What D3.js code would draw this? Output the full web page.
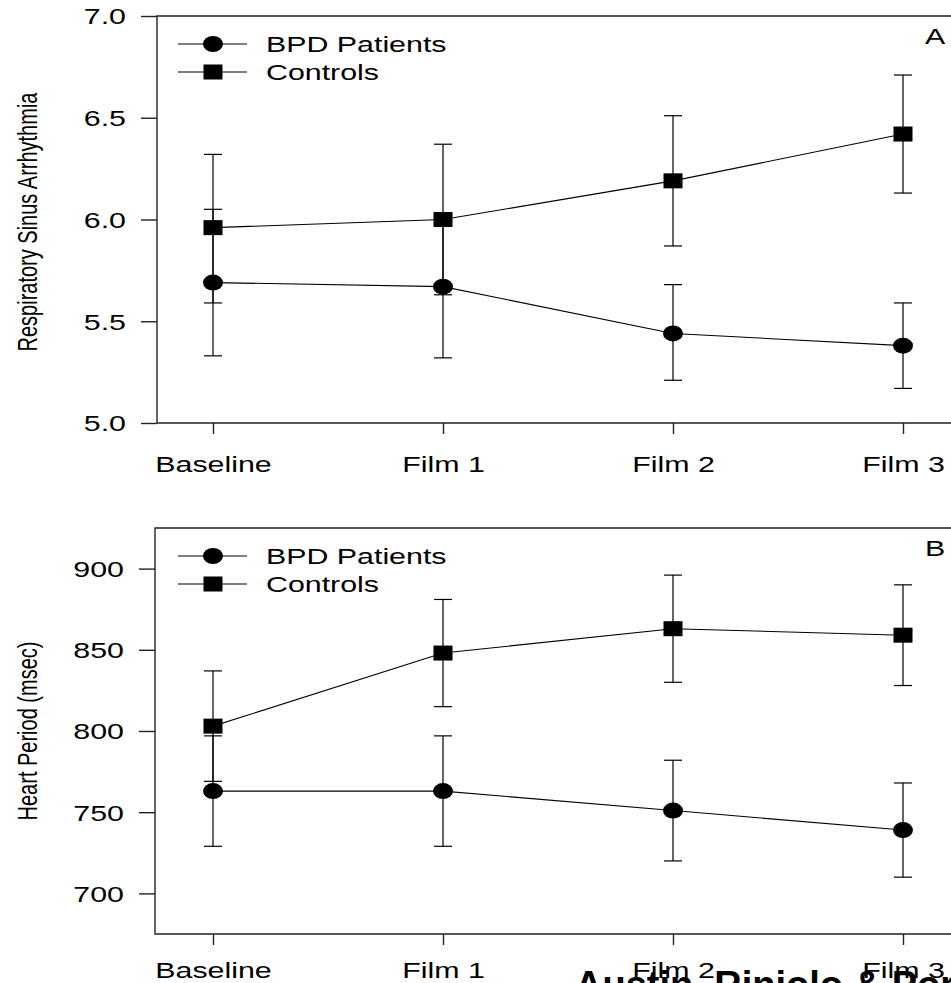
<!DOCTYPE html>
<html>
<head>
<meta charset="utf-8">
<script src="https://cdn.jsdelivr.net/npm/d3@7"></script>
<style>
  body { margin: 0; background: #fff; }
  svg { display: block; }
  text { font-family: "Liberation Sans", Arial, sans-serif; fill: #000; }
</style>
</head>
<body>
<div id="chart"></div>
<script>
// conditions along the x axis
var conditions = ["Baseline", "Film 1", "Film 2", "Film 3"];
var seriesNames = ["BPD Patients", "Controls"];

// Panel A: respiratory sinus arrhythmia (mean, upper, lower)
var rsaBpd = [5.69, 5.67, 5.44, 5.38];
var rsaBpdHi = [6.05, 6.02, 5.68, 5.59];
var rsaBpdLo = [5.33, 5.32, 5.21, 5.17];
var rsaCtrl = [5.96, 6.00, 6.19, 6.42];
var rsaCtrlHi = [6.32, 6.37, 6.51, 6.71];
var rsaCtrlLo = [5.59, 5.63, 5.87, 6.13];
var rsaTicks = [5.0, 5.5, 6.0, 6.5, 7.0];

// Panel B: heart period in msec (mean, upper, lower)
var hpBpd = [763, 763, 751, 739];
var hpBpdHi = [797, 797, 782, 768];
var hpBpdLo = [729, 729, 720, 710];
var hpCtrl = [803, 848, 863, 859];
var hpCtrlHi = [837, 881, 896, 890];
var hpCtrlLo = [769, 815, 830, 828];
var hpTicks = [700, 750, 800, 850, 900];

var svgWidth = 951;
var svgHeight = 983;
var sx = 1.38; // the original figure is stretched sideways

var svg = d3.select("#chart")
  .append("svg")
  .attr("width", svgWidth)
  .attr("height", svgHeight);

var xScale = d3.scaleLinear()
  .domain([0, conditions.length - 1])
  .range([213, 903]);

function stretchText(sel) {
  sel.each(function() {
    var t = d3.select(this);
    var x = +t.attr("x") || 0;
    var y = +t.attr("y") || 0;
    t.attr("x", 0).attr("y", 0)
      .attr("transform", `translate(${x},${y}) scale(${sx},1)`);
  });
}

function drawPanel(opt) {
  var g = svg.append("g");
  var y = d3.scaleLinear().domain(opt.domain).range([opt.bottom, opt.top]);
  var right = 960;

  // frame (right side runs off the page)
  g.append("path")
    .attr("d", `M${right},${opt.top}H${opt.left}V${opt.bottom}H${right}`)
    .attr("fill", "none")
    .attr("stroke", "#222")
    .attr("stroke-width", 1.4);

  // y axis
  var yAxis = g.append("g")
    .attr("transform", `translate(${opt.left},0)`)
    .call(d3.axisLeft(y).tickValues(opt.ticks).tickSize(16).tickPadding(15)
      .tickFormat(opt.format));
  yAxis.select(".domain").remove();
  yAxis.selectAll("line").attr("stroke", "#222").attr("stroke-width", 1.4);
  yAxis.selectAll("text")
    .attr("font-size", 22)
    .attr("font-family", "Liberation Sans, Arial, sans-serif")
    .attr("dy", "0.36em")
    .call(stretchText);

  // x axis
  var xAxis = g.append("g")
    .attr("transform", `translate(0,${opt.bottom})`)
    .call(d3.axisBottom(xScale).tickValues(d3.range(conditions.length))
      .tickSize(11).tickPadding(opt.xPad)
      .tickFormat(function(i) { return conditions[i]; }));
  xAxis.select(".domain").remove();
  xAxis.selectAll("line").attr("stroke", "#222").attr("stroke-width", 1.4);
  xAxis.selectAll("text")
    .attr("font-size", 22)
    .attr("font-family", "Liberation Sans, Arial, sans-serif")
    .call(stretchText);

  // y axis title
  g.append("text")
    .attr("transform", `translate(${opt.titleX},${opt.titleY}) scale(${sx},1) rotate(-90)`)
    .attr("text-anchor", "middle")
    .attr("font-size", 20)
    .text(opt.title);

  // panel letter
  g.append("text")
    .attr("transform", `translate(925,${opt.top + 28}) scale(${sx},1)`)
    .attr("font-size", 22)
    .text(opt.letter);

  var groups = [
    { mean: opt.bpd, hi: opt.bpdHi, lo: opt.bpdLo, shape: "circle" },
    { mean: opt.ctrl, hi: opt.ctrlHi, lo: opt.ctrlLo, shape: "square" }
  ];

  var line = d3.line()
    .x(function(d, i) { return xScale(i); })
    .y(function(d) { return y(d); });

  groups.forEach(function(s) {
    g.append("path")
      .datum(s.mean)
      .attr("d", line)
      .attr("fill", "none")
      .attr("stroke", "#000")
      .attr("stroke-width", 1.1);

    var bars = g.selectAll(null)
      .data(s.mean.map(function(m, i) { return { i: i, hi: s.hi[i], lo: s.lo[i] }; }))
      .enter()
      .append("g")
      .attr("stroke", "#000")
      .attr("stroke-width", 1.2);
    bars.append("line")
      .attr("x1", d => xScale(d.i)).attr("x2", d => xScale(d.i))
      .attr("y1", d => y(d.hi)).attr("y2", d => y(d.lo));
    bars.append("line")
      .attr("x1", d => xScale(d.i) - 9).attr("x2", d => xScale(d.i) + 9)
      .attr("y1", d => y(d.hi)).attr("y2", d => y(d.hi));
    bars.append("line")
      .attr("x1", d => xScale(d.i) - 9).attr("x2", d => xScale(d.i) + 9)
      .attr("y1", d => y(d.lo)).attr("y2", d => y(d.lo));
  });

  groups.forEach(function(s) {
    var pts = g.selectAll(null).data(s.mean).enter();
    if (s.shape === "circle") {
      pts.append("ellipse")
        .attr("cx", (d, i) => xScale(i))
        .attr("cy", d => y(d))
        .attr("rx", 10).attr("ry", 8)
        .attr("fill", "#000");
    } else {
      pts.append("rect")
        .attr("x", (d, i) => xScale(i) - 9.5)
        .attr("y", d => y(d) - 7.5)
        .attr("width", 19).attr("height", 15)
        .attr("fill", "#000");
    }
  });

  // legend
  var legend = g.append("g")
    .attr("transform", `translate(0,${opt.top + 28})`);
  seriesNames.forEach(function(name, k) {
    var ly = k * 28;
    legend.append("line")
      .attr("x1", 178).attr("x2", 247)
      .attr("y1", ly).attr("y2", ly)
      .attr("stroke", "#000").attr("stroke-width", 1.1);
    if (k === 0) {
      legend.append("ellipse")
        .attr("cx", 213).attr("cy", ly)
        .attr("rx", 10).attr("ry", 8).attr("fill", "#000");
    } else {
      legend.append("rect")
        .attr("x", 203.5).attr("y", ly - 7.5)
        .attr("width", 19).attr("height", 15).attr("fill", "#000");
    }
    legend.append("text")
      .attr("transform", `translate(266,${ly + 8}) scale(${sx},1)`)
      .attr("font-size", 22)
      .text(name);
  });
}

drawPanel({
  top: 16, bottom: 423, left: 157,
  domain: [5.0, 7.0], ticks: rsaTicks, format: d3.format(".1f"),
  xPad: 22,
  title: "Respiratory Sinus Arrhythmia", titleX: 37, titleY: 222,
  letter: "A",
  bpd: rsaBpd, bpdHi: rsaBpdHi, bpdLo: rsaBpdLo,
  ctrl: rsaCtrl, ctrlHi: rsaCtrlHi, ctrlLo: rsaCtrlLo
});

drawPanel({
  top: 528, bottom: 934, left: 155,
  domain: [675, 925], ticks: hpTicks, format: d3.format("d"),
  xPad: 17,
  title: "Heart Period (msec)", titleX: 37, titleY: 731,
  letter: "B",
  bpd: hpBpd, bpdHi: hpBpdHi, bpdLo: hpBpdLo,
  ctrl: hpCtrl, ctrlHi: hpCtrlHi, ctrlLo: hpCtrlLo
});

// author credit, cut off by the bottom edge
svg.append("text")
  .attr("x", 575)
  .attr("y", 998)
  .attr("font-size", 38)
  .attr("font-weight", "bold")
  .text("Austin, Riniolo & Porges");
</script>
</body>
</html>
